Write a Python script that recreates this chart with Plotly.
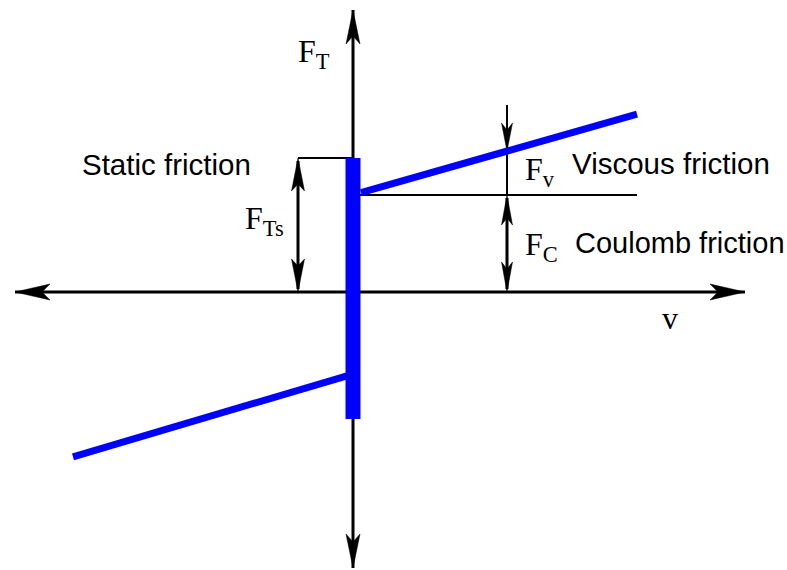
import plotly.graph_objects as go
import numpy as np

# ---- diagram values (data units; 1 unit = 1 px on both axes) ----
v_axis = [-338, 392]          # velocity axis extent
f_axis = [-276, 282]          # force axis extent
v_branch_pos = [8, 284]       # positive-velocity branch
v_branch_neg = [-280, -6]     # negative-velocity branch
Fc_pos = 97                   # Coulomb friction level (v>0)
Fc_neg = -82                  # Coulomb friction level (v<0)
k_visc = 0.285                # viscous slope
Fs_top = 134                  # static friction (top of bar)
Fs_bottom = -127              # static friction (bottom of bar)
v_mark = 154                  # where Fv / Fc arrows are drawn
v_static = -55                # where Fs arrow is drawn
fv_arrow_top = 187            # top of the Fv indicator
coulomb_line = [7, 284]       # thin Coulomb reference line extent

BLUE = "#0000ff"
BLACK = "#000000"

fig = go.Figure()

def line(xs, ys, w, color=BLACK):
    fig.add_trace(go.Scatter(x=xs, y=ys, mode="lines",
                             line=dict(color=color, width=w),
                             hoverinfo="skip", showlegend=False))

def head(tx, ty, dx, dy, length, hw, notch):
    d = np.array([dx, dy], float); d /= np.linalg.norm(d)
    n = np.array([-d[1], d[0]])
    tip = np.array([tx, ty], float)
    back = tip - d * length
    nt = tip - d * notch
    pts = [tip, back + n * hw, nt, back - n * hw, tip]
    fig.add_trace(go.Scatter(x=[p[0] for p in pts], y=[p[1] for p in pts],
                             mode="lines", fill="toself", fillcolor=BLACK,
                             line=dict(color=BLACK, width=0.5),
                             hoverinfo="skip", showlegend=False))

# axes
line(v_axis, [0, 0], 3)
head(v_axis[1], 0, 1, 0, 35, 8, 27)
head(v_axis[0], 0, -1, 0, 35, 8, 27)
line([0, 0], f_axis, 3)
head(0, f_axis[1], 0, 1, 34, 7, 26)
head(0, f_axis[0], 0, -1, 34, 7, 26)

# static friction guide + arrow
line([v_static, 0], [Fs_top, Fs_top], 2)
line([v_static, v_static], [3, Fs_top - 3], 3)
head(v_static, Fs_top, 0, 1, 33, 6.5, 26)
head(v_static, 0, 0, -1, 33, 6.5, 26)

# Coulomb reference line + arrow
line(coulomb_line, [Fc_pos, Fc_pos], 2)
line([v_mark, v_mark], [3, Fc_pos - 3], 3)
head(v_mark, Fc_pos, 0, 1, 30, 5.5, 23)
head(v_mark, 0, 0, -1, 30, 5.5, 23)

# viscous indicator
fv_tip = Fc_pos + k_visc * v_mark
line([v_mark, v_mark], [fv_arrow_top, Fc_pos], 2)
head(v_mark, fv_tip, 0, -1, 28, 5.5, 21)

# friction characteristic (blue)
fig.add_trace(go.Scatter(x=[-7.5, 7.5, 7.5, -7.5, -7.5],
                         y=[Fs_bottom, Fs_bottom, Fs_top, Fs_top, Fs_bottom],
                         mode="lines", fill="toself", fillcolor=BLUE,
                         line=dict(color=BLUE, width=0),
                         hoverinfo="skip", showlegend=False))
xp = np.array(v_branch_pos, float)
line(xp, Fc_pos + k_visc * xp, 7, BLUE)
xn = np.array(v_branch_neg, float)
line(xn, Fc_neg + (k_visc + 0.011) * xn, 7, BLUE)

SERIF = "Liberation Serif, Times New Roman, serif"
SANS = "Liberation Sans, Arial, sans-serif"

def text(x, y, s, fam, size):
    fig.add_annotation(x=x, y=y, text=s, showarrow=False, xanchor="left",
                       yanchor="middle", font=dict(family=fam, size=size, color=BLACK))

text(-57, 239, "F<sub>T</sub>", SERIF, 32)
text(-273, 128, "Static friction", SANS, 29.5)
text(-110, 72, "F<sub>Ts</sub>", SERIF, 32)
text(170, 121, "F<sub>v</sub>", SERIF, 32)
text(217, 129, "Viscous friction", SANS, 29.5)
text(170, 46, "F<sub>C</sub>", SERIF, 32)
text(220, 49, "Coulomb friction", SANS, 29)
text(307, -26, "v", SERIF, 32)

fig.update_layout(width=787, height=570, margin=dict(l=0, r=0, t=0, b=0),
                  paper_bgcolor="white", plot_bgcolor="white",
                  xaxis=dict(range=[-353, 434], visible=False, fixedrange=True),
                  yaxis=dict(range=[-278, 292], visible=False, fixedrange=True))
fig.write_html("out.html", config={"displayModeBar": False},
               post_script="document.body.style.margin='0';document.body.style.overflow='hidden';")
